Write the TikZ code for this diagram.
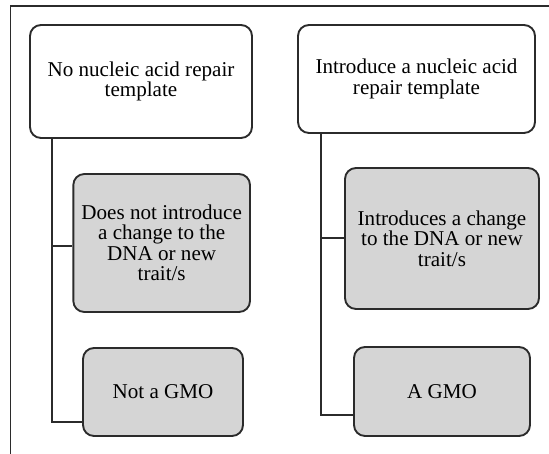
\documentclass[tikz,border=0pt]{standalone}
\usepackage{fontspec}
\setmainfont{Liberation Serif}
\usetikzlibrary{positioning, calc}

\definecolor{lineGray}{HTML}{2B2B2B}
\definecolor{boxGray}{HTML}{D5D5D5}

\begin{document}
\begin{tikzpicture}[
  topbox/.style={draw=lineGray, line width=1.6pt, rounded corners=0.33cm, fill=white, align=center, font=\fontsize{18}{17.5}\selectfont},
  resbox/.style={topbox, fill=boxGray},
  link/.style={draw=lineGray, line width=1.6pt}
]
\useasboundingbox (0,0) rectangle (16.47,13.62);

% Frame
\draw[lineGray, line width=1.1pt] (0.315,0) |- (16.47,13.44);

\node[topbox, minimum width=6.66cm, minimum height=3.39cm] (noTmpl) at (4.23,11.175) {No nucleic acid repair\\template};
\node[topbox, minimum width=7.11cm, minimum height=3.24cm] (withTmpl) at (12.495,11.25) {Introduce a nucleic acid\\repair template};
\node[resbox, minimum width=5.3cm, minimum height=4.14cm] (noChange) at (4.85,6.33) {Does not introduce\\a change to the\\DNA or new\\trait/s};
\node[resbox, minimum width=4.8cm, minimum height=2.64cm] (notGmo) at (4.89,1.86) {Not a GMO};
\node[resbox, minimum width=5.82cm, minimum height=4.23cm] (change) at (13.26,6.465) {Introduces a change\\to the DNA or new\\trait/s};
\node[resbox, minimum width=5.28cm, minimum height=2.67cm] (isGmo) at (13.26,1.875) {A GMO};

\coordinate (lSpine) at (1.56,0);
\coordinate (rSpine) at (9.63,0);

% Left branch
\draw[link] (noTmpl.south -| lSpine) |- ([yshift=-0.9cm]notGmo.west);
\draw[link] ([yshift=-0.09cm]noChange.west -| lSpine) -- ([yshift=-0.09cm]noChange.west);

% Right branch
\draw[link] (withTmpl.south -| rSpine) |- ([yshift=-0.7cm]isGmo.west);
\draw[link] ([yshift=0.02cm]change.west -| rSpine) -- ([yshift=0.02cm]change.west);

\end{tikzpicture}
\end{document}
